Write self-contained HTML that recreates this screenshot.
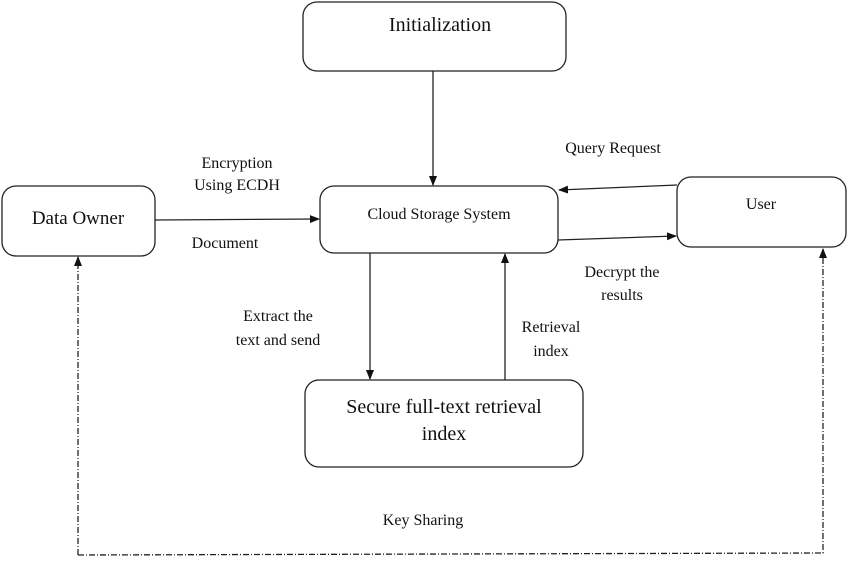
<!DOCTYPE html>
<html><head><meta charset="utf-8"><style>
body{margin:0;background:#fff}
text{font-family:'Liberation Serif','Times New Roman',serif !important;fill:#111}
</style></head><body>
<svg width="850" height="561" viewBox="0 0 850 561" xmlns="http://www.w3.org/2000/svg" font-family="'Liberation Serif', 'Times New Roman', serif">
<defs><marker id="a" markerWidth="10" markerHeight="8" refX="9" refY="4" orient="auto" markerUnits="userSpaceOnUse"><path d="M0,0 L10,4 L0,8 z" fill="#111"/></marker></defs>
<g fill="none" stroke="#222" stroke-width="1.3">
<rect x="303" y="2" width="263" height="69" rx="14"/>
<rect x="2" y="186" width="153" height="70" rx="14"/>
<rect x="320" y="186" width="238" height="67" rx="14"/>
<rect x="677" y="177" width="169" height="70" rx="14"/>
<rect x="305" y="380" width="278" height="87" rx="14"/>
<line x1="433" y1="71" x2="433" y2="185" marker-end="url(#a)"/>
<line x1="155" y1="220" x2="319" y2="219" marker-end="url(#a)"/>
<line x1="677" y1="185" x2="559" y2="190" marker-end="url(#a)"/>
<line x1="558" y1="240" x2="676" y2="236" marker-end="url(#a)"/>
<line x1="370" y1="253" x2="370" y2="379" marker-end="url(#a)"/>
<line x1="505" y1="380" x2="505" y2="254" marker-end="url(#a)"/>
<path d="M78,555 L823,553 L823,249" stroke-dasharray="6,2,1,2" marker-end="url(#a)"/>
<path d="M78,555 L78,257" stroke-dasharray="6,2,1,2" marker-end="url(#a)"/>
</g>
<g font-family="'Liberation Serif', serif">
<text x="440" y="31" font-size="20" text-anchor="middle">Initialization</text>
<text x="78" y="224" font-size="19" text-anchor="middle">Data Owner</text>
<text x="439" y="219" font-size="16" text-anchor="middle">Cloud Storage System</text>
<text x="761" y="209" font-size="16" text-anchor="middle">User</text>
<text x="444" y="413" font-size="20" text-anchor="middle">Secure full-text retrieval</text>
<text x="444" y="440" font-size="20" text-anchor="middle">index</text>
<text x="237" y="168" font-size="16" text-anchor="middle">Encryption</text>
<text x="237" y="190" font-size="16" text-anchor="middle">Using ECDH</text>
<text x="225" y="248" font-size="16" text-anchor="middle">Document</text>
<text x="613" y="153" font-size="16" text-anchor="middle">Query Request</text>
<text x="622" y="277" font-size="16" text-anchor="middle">Decrypt the</text>
<text x="622" y="300" font-size="16" text-anchor="middle">results</text>
<text x="278" y="321" font-size="16" text-anchor="middle">Extract the</text>
<text x="278" y="345" font-size="16" text-anchor="middle">text and send</text>
<text x="551" y="332" font-size="16" text-anchor="middle">Retrieval</text>
<text x="551" y="356" font-size="16" text-anchor="middle">index</text>
<text x="423" y="525" font-size="16" text-anchor="middle">Key Sharing</text>
</g>
</svg>
</body></html>
